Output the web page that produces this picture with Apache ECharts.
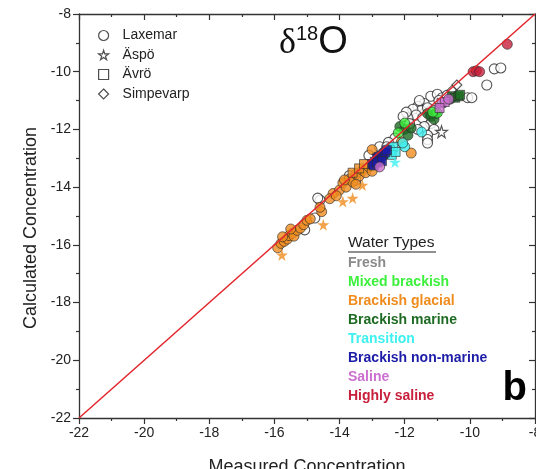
<!DOCTYPE html>
<html>
<head>
<meta charset="utf-8">
<script src="https://cdn.jsdelivr.net/npm/echarts@6/dist/echarts.min.js"></script>
<style>
html,body{margin:0;padding:0;background:#fff;}
#chart{width:536px;height:469px;}
</style>
</head>
<body>
<div id="chart"></div>
<script>
// ---- Axis ticks ----
const axisMin = -22;
const axisMax = -8;
const axisInterval = 2;

// ---- Legend texts ----
const sites = ['Laxemar', 'Äspö', 'Ävrö', 'Simpevarp'];
const waterTypes = ['Fresh', 'Mixed brackish', 'Brackish glacial', 'Brackish marine', 'Transition', 'Brackish non-marine', 'Saline', 'Highly saline'];

// ---- Data: [measured, calculated] ----
const laxFresh = [
  [-9.25,-9.9],[-9.05,-9.87],[-9.48,-10.46],[-10.07,-10.9],[-9.94,-10.9],
  [-11.2,-10.85],[-11.0,-10.78],[-10.85,-10.9],[-10.7,-10.82],[-10.95,-11.0],
  [-11.4,-11.1],[-11.6,-11.2],[-11.5,-11.35],[-11.75,-11.3],[-11.3,-11.25],
  [-11.65,-11.5],[-11.45,-11.6],[-11.9,-11.6],[-11.2,-11.8],[-11.4,-11.9],
  [-11.1,-12.0],[-11.3,-12.2],[-11.3,-12.35],[-11.3,-12.47],[-11.6,-12.0],
  [-12.3,-12.3],[-12.5,-12.45],[-12.77,-12.6],[-12.55,-12.6],[-11.95,-11.4],
  [-12.05,-11.55],[-11.1,-11.35],[-11.55,-11.0],[-11.85,-11.8],
  [-13.7,-13.6],[-13.5,-13.75],[-14.6,-14.45],[-14.67,-14.38],[-14.76,-15.07],
  [-15.07,-15.48],[-13.1,-12.9]
];
const laxGlacial = [
  [-15.9,-16.1],[-15.8,-15.95],[-15.7,-15.88],[-15.6,-15.8],[-15.55,-15.68],
  [-15.45,-15.6],[-15.4,-15.7],[-15.3,-15.5],[-15.2,-15.42],[-15.1,-15.3],
  [-15.0,-15.15],[-14.9,-15.1],[-15.75,-15.72],[-15.5,-15.45],[-14.55,-14.85],
  [-14.6,-14.7],[-14.2,-14.22],[-14.0,-14.1],[-13.9,-13.85],[-13.8,-14.0],
  [-13.7,-13.72],[-13.6,-13.82],[-13.5,-13.55],[-13.4,-13.62],[-13.3,-13.42],
  [-13.2,-13.5],[-13.1,-13.3],[-13.0,-13.45],[-13.5,-13.9],[-13.85,-13.75],
  [-13.0,-12.7],[-11.8,-12.82],[-12.1,-12.43],[-14.3,-14.4],[-14.1,-14.3]
];
const avrGlacial = [[-13.6,-13.5],[-13.4,-13.35],[-13.25,-13.2]];
const aspGlacial = [[-15.77,-16.35],[-14.5,-15.3],[-13.9,-14.5],[-13.6,-14.38],[-13.3,-13.93]];
const aspTransition = [[-12.3,-13.13]];
const aspFresh = [[-10.87,-12.08]];
const laxTransition = [[-11.48,-12.09],[-12.0,-12.6],[-12.46,-12.64],[-12.06,-12.47]];
const avrTransition = [[-12.45,-12.72],[-12.35,-12.6],[-12.4,-12.88],[-12.28,-12.78]];
const avrNonMarine = [
  [-13.0,-13.2],[-12.92,-13.12],[-12.85,-13.0],[-12.8,-12.95],[-12.75,-13.05],
  [-12.7,-12.9],[-12.65,-12.85],[-12.6,-12.8],[-12.55,-12.72],[-12.95,-13.25],
  [-12.85,-13.15],[-12.7,-13.1]
];
const laxMixed = [[-12.0,-11.78],[-12.2,-12.12],[-11.0,-11.43],[-11.14,-11.4]];
const laxMarine = [
  [-11.3,-11.45],[-11.2,-11.55],[-11.05,-11.45],[-11.1,-11.65],[-12.15,-11.9],
  [-12.0,-12.0],[-11.9,-12.2],[-11.8,-11.95],[-10.6,-10.95]
];
const avrMarine = [[-10.55,-10.85],[-10.45,-10.9],[-10.35,-10.85],[-10.3,-10.8]];
const avrSaline = [[-10.87,-11.08],[-10.77,-11.05],[-10.93,-11.26]];
const laxSaline = [[-10.65,-10.95],[-12.77,-13.3]];
const laxHighSaline = [[-8.85,-9.05],[-9.9,-10.0],[-9.8,-9.97],[-9.7,-10.0]];
const simpFresh = [[-10.4,-10.46],[-10.55,-10.65]];
const oneToOne = [[-22,-22],[-8,-8]];

// ---- Styles ----
const typeColors = {
  'Fresh': '#8a8a8a',
  'Mixed brackish': '#3cf03c',
  'Brackish glacial': '#f08c1e',
  'Brackish marine': '#1d6b22',
  'Transition': '#3ef0f0',
  'Brackish non-marine': '#1c1ca8',
  'Saline': '#cc6fd0',
  'Highly saline': '#c8203c'
};
const STAR = 'path://M50,0 L61,35 L98,35 L68,57 L79,91 L50,70 L21,91 L32,57 L2,35 L39,35 Z';
const siteSymbols = {'Laxemar':'circle','Äspö':STAR,'Ävrö':'rect','Simpevarp':'diamond'};
const FONT = 'Liberation Sans, Arial, sans-serif';

function mk(site, type, data, size) {
  const hollow = type === 'Fresh';
  const isStar = site === 'Äspö';
  return {
    name: site,
    type: 'scatter',
    data: data,
    symbol: siteSymbols[site],
    symbolSize: size || (isStar ? 12 : 10),
    itemStyle: hollow
      ? {color: '#ffffff', borderColor: '#2a2a2a', borderWidth: 1.1}
      : {color: typeColors[type], borderColor: isStar ? typeColors[type] : '#2a2a2a', borderWidth: isStar ? 0 : 0.8},
    emphasis: {disabled: true},
    z: 3
  };
}

const series = [
  mk('Laxemar','Fresh',laxFresh),
  mk('Simpevarp','Fresh',simpFresh),
  mk('Äspö','Fresh',aspFresh),
  mk('Laxemar','Brackish glacial',laxGlacial),
  mk('Ävrö','Brackish glacial',avrGlacial, 9),
  mk('Äspö','Brackish glacial',aspGlacial),
  mk('Laxemar','Brackish marine',laxMarine),
  mk('Ävrö','Brackish marine',avrMarine, 9),
  mk('Laxemar','Mixed brackish',laxMixed),
  mk('Laxemar','Transition',laxTransition),
  mk('Ävrö','Transition',avrTransition, 9),
  mk('Äspö','Transition',aspTransition),
  mk('Ävrö','Brackish non-marine',avrNonMarine, 9),
  mk('Ävrö','Saline',avrSaline, 9),
  mk('Laxemar','Saline',laxSaline),
  mk('Laxemar','Highly saline',laxHighSaline),
  {
    name: '1:1',
    type: 'line',
    data: oneToOne,
    symbol: 'none',
    lineStyle: {color: '#e3242b', width: 1.5},
    emphasis: {disabled: true},
    z: 5
  }
];

const axisCommon = {
  type: 'value', min: axisMin, max: axisMax, interval: axisInterval,
  splitLine: {show: false},
  axisLine: {show: true, onZero: false, lineStyle: {color: '#333', width: 1.3}},
  minorTick: {show: true, splitNumber: 2, length: 3, lineStyle: {color: '#333', width: 1.2}},
  axisTick: {show: true, length: 6, lineStyle: {color: '#333', width: 1.2}}
};

const option = {
  animation: false,
  backgroundColor: '#ffffff',
  grid: {left: 79, right: 1, top: 14, bottom: 51, containLabel: false, outerBoundsMode: 'none'},
  legend: {
    data: sites.map(s => ({
      name: s, icon: siteSymbols[s],
      itemStyle: {color: '#ffffff', borderColor: '#222', borderWidth: 1.2}
    })),
    orient: 'vertical', left: 93, top: 23,
    itemWidth: 10, itemHeight: 10, itemGap: 4.5,
    selectedMode: false,
    textStyle: {fontFamily: FONT, fontSize: 14, color: '#222', lineHeight: 15, padding: [0,0,0,9]}
  },
  xAxis: [
    Object.assign({}, axisCommon, {
      position: 'bottom',
      axisTick: Object.assign({}, axisCommon.axisTick, {inside: false}),
      axisLabel: {fontFamily: FONT, fontSize: 14, color: '#222', margin: 8},
      name: 'Measured Concentration', nameLocation: 'middle', nameGap: 40,
      nameTextStyle: {fontFamily: FONT, fontSize: 18, color: '#222'}
    }),
    Object.assign({}, axisCommon, {
      position: 'top',
      axisTick: Object.assign({}, axisCommon.axisTick, {inside: true}),
      minorTick: Object.assign({}, axisCommon.minorTick),
      axisLabel: {show: false}
    })
  ],
  yAxis: [
    Object.assign({}, axisCommon, {
      position: 'left',
      axisTick: Object.assign({}, axisCommon.axisTick, {inside: false}),
      axisLabel: {fontFamily: FONT, fontSize: 14, color: '#222', margin: 8},
      name: 'Calculated Concentration', nameLocation: 'middle', nameGap: 37,
      nameTextStyle: {fontFamily: FONT, fontSize: 18, color: '#222', padding: [0, 24, 0, 0]}
    }),
    Object.assign({}, axisCommon, {
      position: 'right',
      axisTick: Object.assign({}, axisCommon.axisTick, {inside: true}),
      axisLabel: {show: false}
    })
  ],
  series: series,
  graphic: [
    {
      type: 'text', left: 279, top: 24, z: 10,
      style: {
        text: '{d|δ}{s|18}{o|O}',
        rich: {
          d: {fontFamily: 'Liberation Serif, DejaVu Serif, serif', fontSize: 36, fill: '#111', verticalAlign: 'bottom'},
          s: {fontFamily: FONT, fontSize: 20, fill: '#111', verticalAlign: 'top', padding: [0, 0, 18, 0]},
          o: {fontFamily: FONT, fontSize: 38, fill: '#111', verticalAlign: 'bottom'}
        }
      }
    },
    {
      type: 'text', left: 348, top: 235, z: 10,
      style: {text: 'Water Types', fontFamily: FONT, fontSize: 15.5, fill: '#222'}
    },
    {
      type: 'line', z: 10,
      shape: {x1: 348, y1: 252, x2: 436, y2: 252},
      style: {stroke: '#222', lineWidth: 1}
    }
  ].concat(waterTypes.map((t, i) => ({
    type: 'text', left: 348, top: 256 + i * 19, z: 10,
    style: {text: t, fontFamily: FONT, fontSize: 14, fontWeight: 'bold', fill: typeColors[t]}
  }))).concat([
    {
      type: 'text', right: 9, top: 369, z: 10,
      style: {text: 'b', fontFamily: FONT, fontSize: 40, fontWeight: 'bold', fill: '#000'}
    }
  ])
};

const chart = echarts.init(document.getElementById('chart'), null, {renderer: 'canvas'});
chart.setOption(option);
</script>
</body>
</html>
